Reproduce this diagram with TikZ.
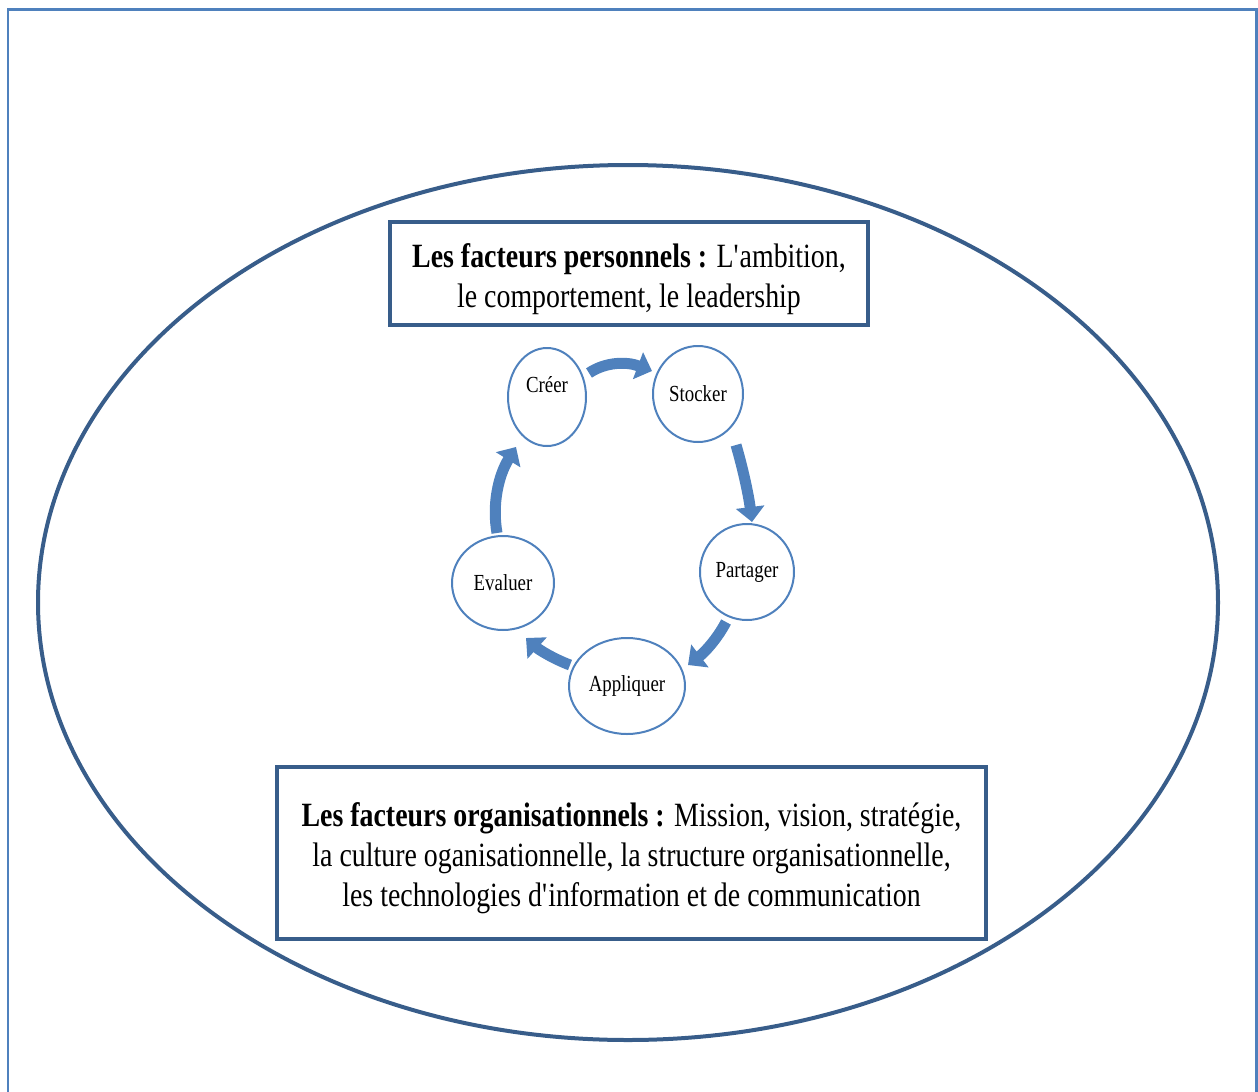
\documentclass[tikz,border=0pt]{standalone}
\usepackage{fontspec}
\setmainfont{Liberation Serif}[FakeStretch=0.82]
\usetikzlibrary{shapes.geometric,arrows.meta}
\definecolor{frameblue}{HTML}{4F81BD}
\definecolor{darkblue}{HTML}{385D8A}
\definecolor{arrowblue}{HTML}{4F81BD}
\tikzset{
  factorbox/.style={draw=darkblue, line width=3.5pt, inner sep=0pt},
  boxtext/.style={align=center, inner sep=0pt, font=\fontsize{34}{40}\selectfont},
  cyc/.style={ellipse, draw=arrowblue, line width=2pt, fill=white, inner sep=0pt,
    font=\fontsize{23}{26}\selectfont},
  lbl/.style={font=\fontsize{23}{26}\selectfont, inner sep=0pt},
  flow/.style={draw=arrowblue, line width=11pt, line cap=butt,
    -{Triangle[length=15pt, width=28pt]}},
}
\begin{document}
\begin{tikzpicture}[x=1pt, y=-1pt]
  \useasboundingbox (0,0) rectangle (1258,1092);
  \clip (0,0) rectangle (1258,1092);

  % page frame (open at the bottom)
  \draw[frameblue, line width=2.5pt] (8,1100) -- (8,9.5) -- (1256.5,9.5) -- (1256.5,1100);

  % surrounding ellipse
  \draw[darkblue, line width=4pt] (628,602.5) ellipse [x radius=590, y radius=437.5];

  % factor boxes
  \node[factorbox, minimum width=478pt, minimum height=103pt] (pers) at (629,273.5) {};
  \node[boxtext] (perstext) at (629,279.5)
    {\textbf{Les facteurs personnels :} L\textquotesingle ambition,\\le comportement, le leadership};
  \node[factorbox, minimum width=709pt, minimum height=172pt] (org) at (631.5,853) {};
  \node[boxtext] (orgtext) at (631.5,858)
    {\textbf{Les facteurs organisationnels :} Mission, vision, stratégie,\\
     la culture oganisationnelle, la structure organisationnelle,\\
     les technologies d\textquotesingle information et de communication};

  % knowledge cycle
  \node[cyc, minimum width=78pt, minimum height=98pt,
        label={[lbl, yshift=12pt]center:Créer}] (cr) at (547,397) {};
  \node[cyc, minimum width=90pt, minimum height=96pt] (st) at (698,394) {Stocker};
  \node[cyc, minimum width=94pt, minimum height=96pt] (pa) at (747,572) {Partager};
  \node[cyc, minimum width=116pt, minimum height=96pt] (ap) at (627,686) {Appliquer};
  \node[cyc, minimum width=102pt, minimum height=94pt] (ev) at (503,583) {Evaluer};

  % cycle arrows
  \coordinate (a1s) at (589,373); \coordinate (a1e) at (652,371);
  \coordinate (a2s) at (736,445); \coordinate (a2e) at (752,522);
  \coordinate (a3s) at (726,622); \coordinate (a3e) at (688,665);
  \coordinate (a4s) at (570,665); \coordinate (a4e) at (526,638);
  \coordinate (a5s) at (497,533); \coordinate (a5e) at (516,447);
  \draw[flow] (a1s) .. controls (605.3,362) and (626.3,361.3) .. (a1e);
  \draw[flow] (a2s) .. controls (743.3,470) and (748.7,495.7) .. (a2e);
  \draw[flow] (a3s) .. controls (717.3,638.7) and (704.7,652.3) .. (a3e);
  \draw[flow] (a4s) .. controls (554,659) and (539.3,650) .. (a4e);
  \draw[flow] (a5s) .. controls (492,504.3) and (498.3,475.7) .. (a5e);
\end{tikzpicture}
\end{document}
